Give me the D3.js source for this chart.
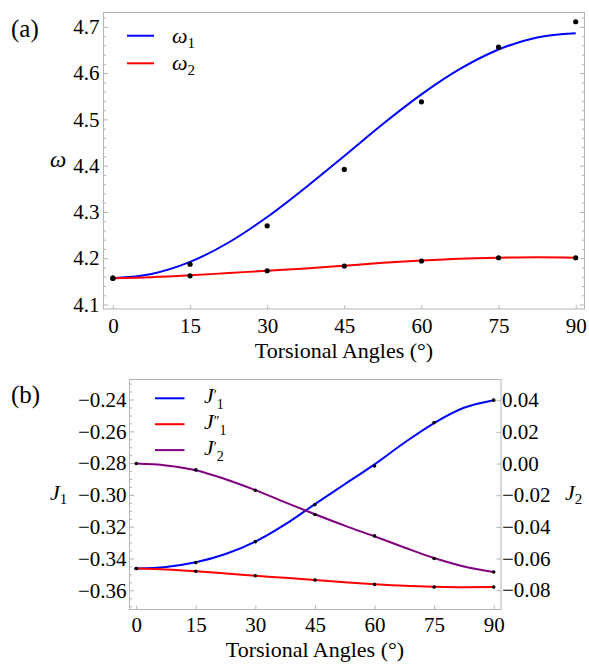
<!DOCTYPE html>
<html><head><meta charset="utf-8">
<script src="https://cdn.jsdelivr.net/npm/d3@7"></script>
<style>body{margin:0;background:#fff;}</style>
</head>
<body><svg id="c" width="589" height="665"></svg>
<script>
// ---------- data ----------
const angles = [0, 15, 30, 45, 60, 75, 90];
const xTicks = [0, 15, 30, 45, 60, 75, 90];
const fitAngles = [0, 7.5, 15, 22.5, 30, 37.5, 45, 52.5, 60, 67.5, 75, 82.5, 90];

// panel (a)
const omega1Points = [4.157, 4.187, 4.270, 4.392, 4.538, 4.656, 4.711];
const omega2Points = [4.157, 4.162, 4.173, 4.183, 4.194, 4.201, 4.201];
const omega1Fit = [4.157, 4.166, 4.192, 4.234, 4.289, 4.353, 4.421, 4.490, 4.554, 4.609, 4.651, 4.677, 4.686];
const omega2Fit = [4.157, 4.159, 4.163, 4.168, 4.173, 4.178, 4.184, 4.190, 4.195, 4.199, 4.201, 4.202, 4.201];
const omegaTicks = [4.1, 4.2, 4.3, 4.4, 4.5, 4.6, 4.7];

// panel (b)
const j1pPoints  = [-0.3463, -0.3426, -0.3294, -0.3061, -0.2818, -0.2545, -0.2404];
const j1ppPoints = [-0.3463, -0.3480, -0.3509, -0.3535, -0.3563, -0.3580, -0.3580];
const j2pPoints  = [0.0000, -0.0040, -0.0169, -0.0322, -0.0457, -0.0600, -0.0685];
const j1pFit  = [-0.3463, -0.3453, -0.3424, -0.3372, -0.3294, -0.3186, -0.3058, -0.2933, -0.2808, -0.2672, -0.2548, -0.2452, -0.2404];
const j1ppFit = [-0.3463, -0.3469, -0.3480, -0.3494, -0.3509, -0.3522, -0.3536, -0.3550, -0.3562, -0.3572, -0.3578, -0.3581, -0.3580];
const j2pFit  = [0.0000, -0.0012, -0.0042, -0.0099, -0.0168, -0.0245, -0.0320, -0.0392, -0.0460, -0.0530, -0.0597, -0.0650, -0.0685];
const j1Ticks = [-0.36, -0.34, -0.32, -0.30, -0.28, -0.26, -0.24];
const j2Ticks = [-0.08, -0.06, -0.04, -0.02, 0.00, 0.02, 0.04];

// ---------- drawing ----------
const svg = d3.select("#c");
const FRAME = "#b4b4b4";
const FONT = "\"Liberation Serif\"";
const tickFont = 21;

function fmtMinus(s){ return s.replace("-", "\u2212"); }

function frame(g, x0, x1, y0, y1){
  g.append("rect").attr("x", x0).attr("y", y0).attr("width", x1 - x0).attr("height", y1 - y0)
    .attr("fill", "none").attr("stroke", FRAME).attr("stroke-width", 1);
}
function styleAxis(sel){
  sel.attr("font-family", null).attr("font-size", null);
  sel.select(".domain").remove();
  sel.selectAll(".tick line").attr("stroke", FRAME);
  sel.selectAll(".tick text").style("font-family", FONT).style("font-size", tickFont + "px").style("fill", "#000");
}
function curve(g, xs, ys, xSc, ySc, color){
  const line = d3.line().x(d => xSc(d[0])).y(d => ySc(d[1])).curve(d3.curveMonotoneX);
  g.append("path").datum(xs.map((a, i) => [a, ys[i]]))
    .attr("d", line).attr("fill", "none").attr("stroke", color).attr("stroke-width", 2);
}
function dots(g, xs, ys, xSc, ySc, r){
  g.selectAll(null).data(xs.map((a, i) => [a, ys[i]])).enter().append("circle")
    .attr("cx", d => xSc(d[0])).attr("cy", d => ySc(d[1])).attr("r", r).attr("fill", "#000");
}
function txt(x, y, size){
  return svg.append("text").attr("x", x).attr("y", y)
    .style("font-family", FONT).style("font-size", size + "px").style("fill", "#000");
}
function sub(t, s, size, dy){
  return t.append("tspan").style("font-size", size + "px").attr("dy", dy).text(s);
}

// ===== Panel (a) =====
{
  const L = 103.5, R = 584.5, T = 12.5, B = 309;
  const x = d3.scaleLinear().domain([-1.83, 91.71]).range([L, R]);
  const y = d3.scaleLinear().domain([4.0903, 4.731]).range([B, T]);
  const g = svg.append("g");
  frame(g, L, R, T, B);

  const minor = d3.range(4.10, 4.7201, 0.02).filter(v => Math.abs(v*10 - Math.round(v*10)) > 1e-6);
  g.append("g").attr("transform", `translate(${L},0)`)
    .call(d3.axisLeft(y).tickValues(minor).tickSize(-2.5).tickFormat("")).call(styleAxis);
  g.append("g").attr("transform", `translate(${R},0)`)
    .call(d3.axisRight(y).tickValues(minor).tickSize(-2.5).tickFormat("")).call(styleAxis);
  g.append("g").attr("transform", `translate(${L},0)`)
    .call(d3.axisLeft(y).tickValues(omegaTicks).tickSize(-4.5).tickPadding(4).tickFormat(d3.format(".1f"))).call(styleAxis);
  g.append("g").attr("transform", `translate(${R},0)`)
    .call(d3.axisRight(y).tickValues(omegaTicks).tickSize(-4.5).tickFormat("")).call(styleAxis);
  g.append("g").attr("transform", `translate(0,${B})`)
    .call(d3.axisBottom(x).tickValues(xTicks).tickSize(-4).tickPadding(9).tickFormat(d3.format("d"))).call(styleAxis);

  curve(g, fitAngles, omega1Fit, x, y, "#0000ff");
  curve(g, fitAngles, omega2Fit, x, y, "#ff0000");
  dots(g, angles, omega1Points, x, y, 2.6);
  dots(g, angles, omega2Points, x, y, 2.6);

  // legend
  const leg = [["#0000ff", "1"], ["#ff0000", "2"]];
  leg.forEach((d, i) => {
    const yy = 35.7 + i * 27.6;
    g.append("line").attr("x1", 127).attr("x2", 154).attr("y1", yy).attr("y2", yy)
      .attr("stroke", d[0]).attr("stroke-width", 2);
    const t = txt(172, yy + 7, 22);
    t.append("tspan").style("font-style", "italic").text("\u03c9");
    sub(t, d[1], 15, 5);
  });

  // labels
  txt(11, 37, 25).text("(a)");
  txt(50, 167, 23).style("font-style", "italic").text("\u03c9");
  txt((L + R) / 2, 358, 22).attr("text-anchor", "middle").text("Torsional Angles (\u00b0)");
}

// ===== Panel (b) =====
{
  const L = 129.5, R = 501, T = 379.5, B = 609.5;
  const x = d3.scaleLinear().domain([-1.69, 91.84]).range([L, R]);
  const yL = d3.scaleLinear().domain([-0.3721, -0.2274]).range([B, T]);
  const yR = d3.scaleLinear().domain([-0.0922, 0.0531]).range([B, T]);
  const g = svg.append("g");
  frame(g, L, R, T, B);

  const minorL = d3.range(-0.370, -0.2279, 0.005).filter(v => Math.abs(v*50 - Math.round(v*50)) > 1e-6);
  g.append("g").attr("transform", `translate(${L},0)`)
    .call(d3.axisLeft(yL).tickValues(minorL).tickSize(-2.5).tickFormat("")).call(styleAxis);
  g.append("g").attr("transform", `translate(${L},0)`)
    .call(d3.axisLeft(yL).tickValues(j1Ticks).tickSize(-4.5).tickPadding(3).tickFormat(d => fmtMinus(d3.format(".2f")(d)))).call(styleAxis);
  g.append("g").attr("transform", `translate(${R},0)`)
    .call(d3.axisRight(yR).tickValues(j2Ticks).tickSize(-4.5).tickPadding(1).tickFormat(d => fmtMinus(d3.format(".2f")(d)))).call(styleAxis);
  g.append("g").attr("transform", `translate(0,${B})`)
    .call(d3.axisBottom(x).tickValues(xTicks).tickSize(-4).tickPadding(8).tickFormat(d3.format("d"))).call(styleAxis);

  curve(g, fitAngles, j1pFit, x, yL, "#0000ff");
  curve(g, fitAngles, j1ppFit, x, yL, "#ff0000");
  curve(g, fitAngles, j2pFit, x, yR, "#800080");
  dots(g, angles, j1pPoints, x, yL, 1.8);
  dots(g, angles, j1ppPoints, x, yL, 1.8);
  dots(g, angles, j2pPoints, x, yR, 1.8);

  // legend
  const leg = [["#0000ff", "\u2032", "1"], ["#ff0000", "\u2033", "1"], ["#800080", "\u2032", "2"]];
  leg.forEach((d, i) => {
    const yy = 398.3 + i * 25.9;
    g.append("line").attr("x1", 155).attr("x2", 184.5).attr("y1", yy).attr("y2", yy)
      .attr("stroke", d[0]).attr("stroke-width", 2);
    const t = txt(204, yy + 5, 22);
    t.append("tspan").style("font-style", "italic").text("J");
    sub(t, d[1], 14, -3);
    sub(t, d[2], 14, 9);
  });

  // labels
  txt(11, 403, 25).text("(b)");
  const j1 = txt(50, 500, 22);
  j1.append("tspan").style("font-style", "italic").text("J");
  sub(j1, "1", 15, 4);
  const j2 = txt(565, 500, 22);
  j2.append("tspan").style("font-style", "italic").text("J");
  sub(j2, "2", 15, 4);
  txt((x(0) + x(90)) / 2, 657, 22).attr("text-anchor", "middle").text("Torsional Angles (\u00b0)");
}
</script></body></html>
